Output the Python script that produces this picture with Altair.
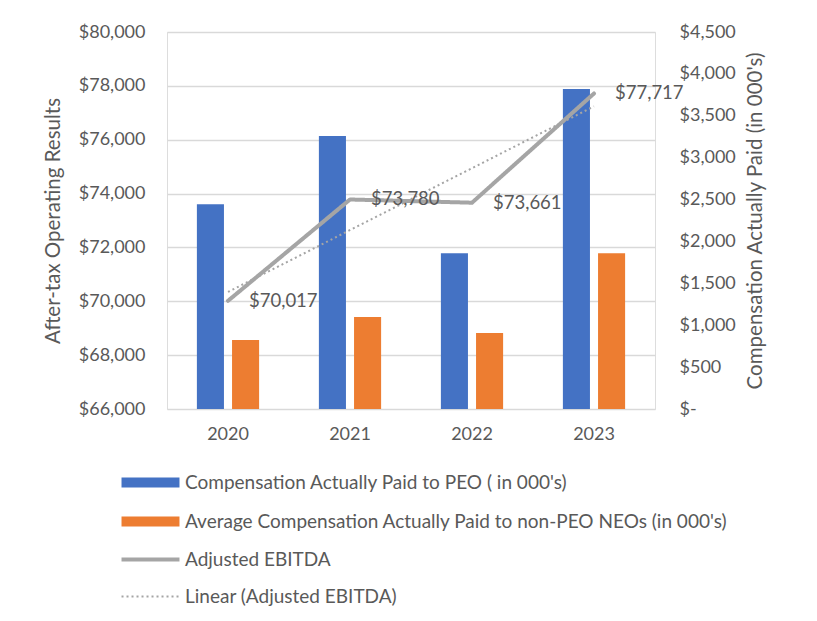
import altair as alt
import pandas as pd

years = [2020, 2021, 2022, 2023]
peo_cap = [2443, 3259, 1858, 3820]
neo_cap = [824, 1098, 907, 1858]
ebitda = [70017, 73780, 73661, 77717]

bar_series = ["Compensation Actually Paid to PEO ( in 000's)",
              "Average Compensation Actually Paid to non-PEO NEOs  (in 000's)"]
line_series = ["Adjusted EBITDA", "Linear (Adjusted EBITDA)"]
left_ticks = [66000, 68000, 70000, 72000, 74000, 76000, 78000, 80000]
right_ticks = [0, 500, 1000, 1500, 2000, 2500, 3000, 3500, 4000, 4500]

bars_df = pd.DataFrame({
    "year": years * 2,
    "bar_series": [bar_series[0]] * 4 + [bar_series[1]] * 4,
    "value": peo_cap + neo_cap,
})
line_df = pd.DataFrame({"year": years, "ebitda": ebitda, "line_series": line_series[0]})

GRAY = "#595959"
FONT = "Lato"

x_axis = alt.Axis(title=None, labelAngle=0, labelFontSize=18, labelColor=GRAY,
                  labelFont=FONT, labelPadding=16, ticks=False, domain=False)
x_scale = alt.Scale(paddingInner=0.49, paddingOuter=0.245)
x_line = alt.X("year:O", bandPosition=0.5, scale=x_scale, axis=x_axis)
y_left = alt.Scale(domain=[66000, 80000], nice=False, zero=False)

LEG = dict(orient="none", title=None, direction="vertical", symbolSize=210,
           labelOffset=25, labelFontSize=19, labelColor=GRAY,
           labelFont=FONT, labelLimit=700, padding=0, legendX=-26)

bars = alt.Chart(bars_df).mark_bar().encode(
    x=alt.X("year:O", scale=x_scale, axis=x_axis),
    xOffset=alt.XOffset("bar_series:N",
                        scale=alt.Scale(domain=bar_series, paddingInner=0.23, paddingOuter=0)),
    y=alt.Y("value:Q", scale=alt.Scale(domain=[0, 4500], nice=False),
            axis=alt.Axis(orient="right", values=right_ticks, grid=False,
                          labelExpr="datum.value == 0 ? '$-' : format(datum.value, '$,.0f')",
                          labelFontSize=18, labelColor=GRAY, labelFont=FONT, labelPadding=24,
                          ticks=False, domain=False,
                          title="Compensation Actually Paid (in 000's)", titleAngle=270,
                          titleFontSize=20.5, titleFont=FONT, titleFontWeight="normal",
                          titleColor=GRAY, titlePadding=30)),
    fill=alt.Fill("bar_series:N",
                  scale=alt.Scale(domain=bar_series, range=["#4472C4", "#ED7D31"]),
                  legend=alt.Legend(legendY=441, rowPadding=19,
                                    symbolType="M-4,-0.69H4V0.69H-4Z",
                                    symbolStrokeWidth=0, **LEG)),
)

line_leg = alt.Legend(legendY=518, rowPadding=17, symbolType="M-4,0H4",
                      symbolStrokeWidth=alt.ExprRef(expr="datum.value === 'Adjusted EBITDA' ? 4 : 2"),
                      **LEG)

line = alt.Chart(line_df).mark_line(strokeWidth=4, strokeJoin="round", strokeCap="round").encode(
    x=x_line,
    y=alt.Y("ebitda:Q", scale=y_left,
            axis=alt.Axis(orient="left", values=left_ticks, format="$,.0f", grid=True,
                          gridColor="#D9D9D9", gridWidth=1.3,
                          labelFontSize=18, labelColor=GRAY, labelFont=FONT, labelPadding=22,
                          ticks=False, domain=False,
                          title="After-tax Operating Results",
                          titleFontSize=20.5, titleFont=FONT, titleFontWeight="normal",
                          titleColor=GRAY, titlePadding=15)),
    stroke=alt.Stroke("line_series:N",
                      scale=alt.Scale(domain=line_series, range=["#A5A5A5", "#A5A5A5"]),
                      legend=line_leg),
    strokeDash=alt.StrokeDash("line_series:N",
                              scale=alt.Scale(domain=line_series, range=[[1, 0], [2, 3]]),
                              legend=line_leg),
)

trend = alt.Chart(line_df).transform_regression(
    "year", "ebitda"
).transform_calculate(
    line_series="'" + line_series[1] + "'"
).mark_line(strokeWidth=2).encode(
    x=x_line,
    y=alt.Y("ebitda:Q", scale=y_left, axis=None),
    stroke=alt.Stroke("line_series:N", scale=alt.Scale(domain=line_series, range=["#A5A5A5", "#A5A5A5"])),
    strokeDash=alt.StrokeDash("line_series:N", scale=alt.Scale(domain=line_series, range=[[1, 0], [2, 3]])),
)

labels = alt.Chart(line_df).mark_text(align="left", baseline="middle", dx=21, fontSize=18.5,
                                      font=FONT, color=GRAY).encode(
    x=x_line,
    y=alt.Y("ebitda:Q", scale=y_left, axis=None),
    text=alt.Text("ebitda:Q", format="$,.0f"),
)

chart = alt.layer(bars, line, trend, labels).resolve_scale(
    y="independent"
).properties(
    width=488, height=377,
    autosize=alt.AutoSizeParams(type="none"),
    padding={"left": 159, "top": 24, "right": 150, "bottom": 200},
).configure_view(stroke=None).configure(font=FONT)

chart.save("out.html", embed_options={"renderer": "svg", "actions": False})
